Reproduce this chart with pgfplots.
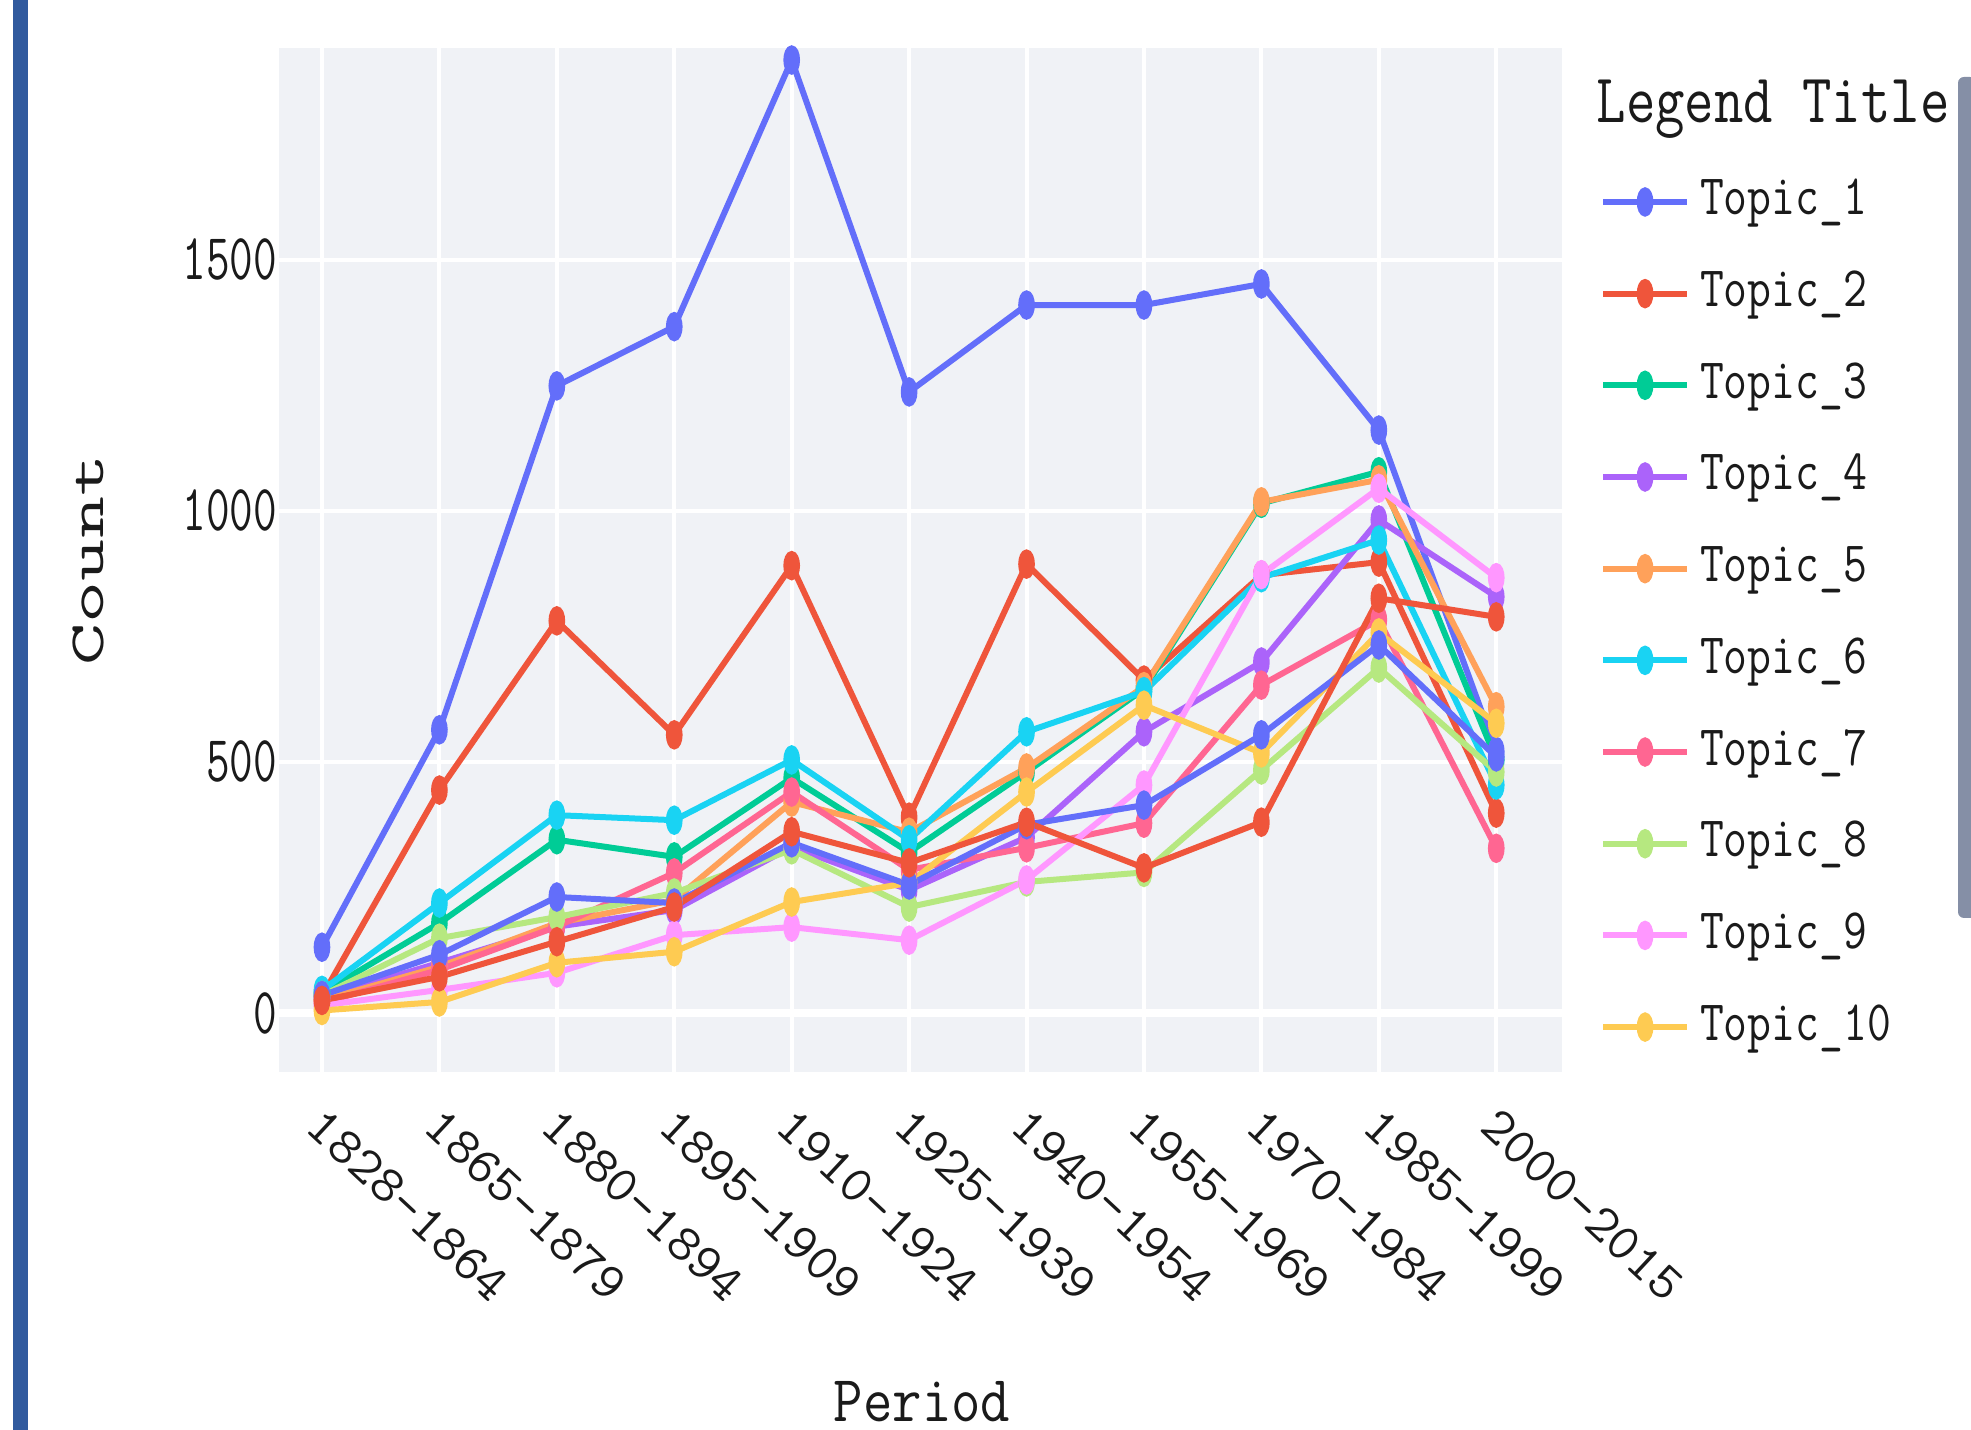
\documentclass[border=0pt]{standalone}
\usepackage{fontspec}
\usepackage{graphicx}
\usepackage{pgfplots}
\pgfplotsset{compat=1.18}
\definecolor{c1}{HTML}{636EFA}
\definecolor{c2}{HTML}{EF553B}
\definecolor{c3}{HTML}{00CC96}
\definecolor{c4}{HTML}{AB63FA}
\definecolor{c5}{HTML}{FFA15A}
\definecolor{c6}{HTML}{19D3F3}
\definecolor{c7}{HTML}{FF6692}
\definecolor{c8}{HTML}{B6E880}
\definecolor{c9}{HTML}{FF97FF}
\definecolor{c10}{HTML}{FECB52}
\definecolor{plotbg}{HTML}{F0F2F6}
\definecolor{txt}{HTML}{1A1A1A}
\definecolor{barblue}{HTML}{315A9E}
\definecolor{scrollgrey}{HTML}{858FA6}
\newcommand\ytfont{\ttfamily\fontsize{16.4}{16.4}\selectfont}
\newcommand\xtfont{\ttfamily\fontsize{13}{13}\selectfont}
\newcommand\legfont{\ttfamily\fontsize{14.3}{14.3}\selectfont}
\newcommand\ltfont{\ttfamily\fontsize{17.4}{17.4}\selectfont}
\newcommand\pfont{\ttfamily\fontsize{16.4}{16.4}\selectfont}
\newcommand\cfont{\ttfamily\fontsize{12.3}{12.3}\selectfont}
\newcommand\ys[1]{\scalebox{0.7}[1]{#1}}
\newcommand\xs[1]{\scalebox{1.06}[1]{#1}}
\newcommand\ls[1]{\scalebox{0.81}[1]{#1}}
\pgfdeclareplotmark{ell}{%
  \pgfpathellipse{\pgfpointorigin}{\pgfpoint{0.46\pgfplotmarksize}{0pt}}{\pgfpoint{0pt}{\pgfplotmarksize}}%
  \pgfusepathqfillstroke}
\pgfplotstableread{
x T1 T2 T3 T4 T5 T6 T7 T8 T9 T10 T11 T12
0 131 33 40 30 25 45 20 35 15 5 35 25
1 564 444 179 100 92 219 86 149 46 22 116 72
2 1249 781 345 172 179 394 172 191 80 100 231 142
3 1367 554 311 205 225 384 279 239 155 122 219 211
4 1898 891 468 331 420 504 440 325 171 221 339 361
5 1237 390 320 245 360 345 285 211 145 259 255 299
6 1410 894 480 350 488 560 329 261 265 440 375 380
7 1410 663 645 560 650 640 378 280 454 613 414 289
8 1452 872 1015 699 1018 867 653 484 873 518 554 380
9 1161 898 1078 982 1062 942 783 687 1045 757 733 826
10 521 398 504 829 610 454 328 480 867 577 510 789
}\datatable
\begin{document}
\begin{tikzpicture}
\useasboundingbox (0,0) rectangle (492.75pt,357.5pt);
\fill[barblue] (3.25pt,0) rectangle (7pt,357.5pt);
\fill[scrollgrey, rounded corners=1.5pt] (489.5pt,128pt) rectangle (494pt,338.25pt);
\begin{axis}[
  at={(69.75pt,89.5pt)}, anchor=south west,
  scale only axis, width=320.75pt, height=256pt,
  xmin=-0.366, xmax=10.56, ymin=-117.5, ymax=1922,
  axis background/.style={fill=plotbg},
  axis line style={draw=none},
  major tick length=0pt,
  xtick={0,1,2,3,4,5,6,7,8,9,10},
  xticklabels={\xs{1828-1864},\xs{1865-1879},\xs{1880-1894},\xs{1895-1909},\xs{1910-1924},\xs{1925-1939},\xs{1940-1954},\xs{1955-1969},\xs{1970-1984},\xs{1985-1999},\xs{2000-2015}},
  ytick={0,500,1000,1500}, yticklabels={\ys{0},\ys{500},\ys{1000},\ys{1500}},
  extra y ticks={0}, extra y tick labels={},
  extra y tick style={major grid style={white, line width=2pt}},
  grid=major, major grid style={white, line width=1pt},
  xticklabel style={font=\xtfont, text=txt, inner sep=0pt, xshift=1pt, yshift=-8.25pt, rotate=-43, anchor=north west},
  yticklabel style={font=\ytfont, text=txt, inner sep=0pt, anchor=east, xshift=-0.3pt},
  legend cell align=left,
  legend style={at={(1.0320,0.8721)}, anchor=north west, draw=none, fill=none,
    inner sep=0pt, outer sep=0pt, row sep=11.42pt,
    cells={anchor=west},
    nodes={inner sep=0pt, outer sep=0pt, text height=9pt, text depth=2.5pt, font=\legfont, text=txt},
    /tikz/every odd column/.append style={column sep=3.25pt}},
  legend image code/.code={
    \pgfpathrectangle{\pgfpoint{0pt}{-5.5pt}}{\pgfpoint{21pt}{9pt}}\pgfusepath{use as bounding box}
    \draw[mark repeat=2,mark phase=2] plot coordinates {(0pt,0pt) (10.5pt,0pt) (21pt,0pt)};},
  every axis plot/.append style={line width=1.5pt, mark=ell, mark size=2.9pt, mark options={solid, line width=1pt}},
]
\addplot[c1, mark options={fill=c1}] table[x=x,y=T1] {\datatable}; \addlegendentry{\ls{Topic\_1}}
\addplot[c2, mark options={fill=c2}] table[x=x,y=T2] {\datatable}; \addlegendentry{\ls{Topic\_2}}
\addplot[c3, mark options={fill=c3}] table[x=x,y=T3] {\datatable}; \addlegendentry{\ls{Topic\_3}}
\addplot[c4, mark options={fill=c4}] table[x=x,y=T4] {\datatable}; \addlegendentry{\ls{Topic\_4}}
\addplot[c5, mark options={fill=c5}] table[x=x,y=T5] {\datatable}; \addlegendentry{\ls{Topic\_5}}
\addplot[c6, mark options={fill=c6}] table[x=x,y=T6] {\datatable}; \addlegendentry{\ls{Topic\_6}}
\addplot[c7, mark options={fill=c7}] table[x=x,y=T7] {\datatable}; \addlegendentry{\ls{Topic\_7}}
\addplot[c8, mark options={fill=c8}] table[x=x,y=T8] {\datatable}; \addlegendentry{\ls{Topic\_8}}
\addplot[c9, mark options={fill=c9}] table[x=x,y=T9] {\datatable}; \addlegendentry{\ls{Topic\_9}}
\addplot[c10, mark options={fill=c10}] table[x=x,y=T10] {\datatable}; \addlegendentry{\ls{Topic\_10}}
\addplot[c1, mark options={fill=c1}, forget plot] table[x=x,y=T11] {\datatable};
\addplot[c2, mark options={fill=c2}, forget plot] table[x=x,y=T12] {\datatable};
\end{axis}
\node[anchor=base west, font=\ltfont, text=txt, inner sep=0pt] at (399pt,326.75pt) {\scalebox{0.82}[1]{Legend Title}};
\node[anchor=base, font=\pfont, text=txt, inner sep=0pt, text depth=0pt] at (230.5pt,2.2pt) {\scalebox{0.87}[1]{Period}};
\node[anchor=base, rotate=90, font=\cfont, text=txt, inner sep=0pt] at (25.75pt,217.5pt) {\scalebox{1.66}[1]{Count}};
\end{tikzpicture}
\end{document}
